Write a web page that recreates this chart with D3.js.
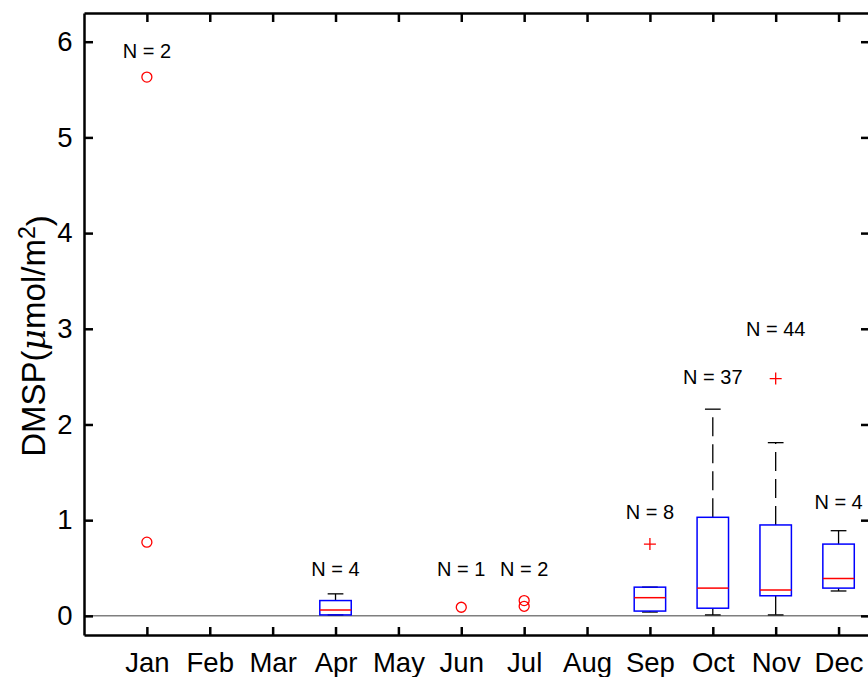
<!DOCTYPE html>
<html lang="en">
<head>
    <meta charset="UTF-8">
    <title>DMSP monthly boxplot</title>
    <script src="https://d3js.org/d3.v7.min.js"></script>
    <style>
        body { margin: 0; background: #fff; }
        text { font-family: "Liberation Sans", Arial, Helvetica, sans-serif; }
        .axis path, .axis line { stroke: #000; stroke-width: 2.5; fill: none; }
        .axis text { font-size: 27.5px; fill: #000; }
    </style>
</head>
<body>
<svg width="868" height="677"></svg>
<script>
    // month categories (x position = index + 1)
    const months = ["Jan", "Feb", "Mar", "Apr", "May", "Jun", "Jul", "Aug", "Sep", "Oct", "Nov", "Dec"];
    const yTicks = [0, 1, 2, 3, 4, 5, 6];

    // boxes
    const boxMonths = ["Apr", "Sep", "Oct", "Nov", "Dec"];
    const boxQ1     = [0.01, 0.05, 0.08, 0.21, 0.29];
    const boxMedian = [0.06, 0.19, 0.29, 0.27, 0.39];
    const boxQ3     = [0.16, 0.30, 1.03, 0.95, 0.75];
    const whiskLow  = [0.01, 0.04, 0.01, 0.01, 0.26];
    const whiskHigh = [0.23, 0.30, 2.16, 1.81, 0.89];

    // outliers (+)
    const plusMonths = ["Sep", "Nov"];
    const plusValues = [0.75, 2.48];

    // single points (o)
    const circleMonths = ["Jan", "Jan", "Jun", "Jul", "Jul"];
    const circleValues = [5.63, 0.77, 0.09, 0.16, 0.10];

    // sample sizes
    const nMonths = ["Jan", "Apr", "Jun", "Jul", "Sep", "Oct", "Nov", "Dec"];
    const nCounts = [2, 4, 1, 2, 8, 37, 44, 4];
    const nLabelY = [5.9, 0.49, 0.49, 0.49, 1.09, 2.5, 3.0, 1.19];

    const svg = d3.select("svg");
    const plotL = 84, plotR = 870, plotT = 13, plotB = 635;

    const x = d3.scaleLinear().domain([0, 12.5]).range([plotL, plotR]);
    const y = d3.scaleLinear().domain([-0.2, 6.3]).range([plotB, plotT]);
    const mx = m => x(months.indexOf(m) + 1);
    const halfBox = (x(0.25) - x(0));
    const halfCap = (x(0.125) - x(0));

    // zero line
    svg.append("line")
        .attr("x1", plotL).attr("x2", plotR)
        .attr("y1", y(0)).attr("y2", y(0))
        .attr("stroke", "#7f7f7f").attr("stroke-width", 1.5);

    // boxes
    const g = svg.append("g");
    boxMonths.forEach(function(m, i) {
        const cx = mx(m);
        // whiskers
        g.append("line")
            .attr("x1", cx).attr("x2", cx)
            .attr("y1", y(boxQ3[i])).attr("y2", y(whiskHigh[i]))
            .attr("stroke", "#000").attr("stroke-width", 1.3)
            .attr("stroke-dasharray", "19,8");
        g.append("line")
            .attr("x1", cx).attr("x2", cx)
            .attr("y1", y(boxQ1[i])).attr("y2", y(whiskLow[i]))
            .attr("stroke", "#000").attr("stroke-width", 1.3)
            .attr("stroke-dasharray", "19,8");
        // caps
        [whiskLow[i], whiskHigh[i]].forEach(function(v) {
            g.append("line")
                .attr("x1", cx - halfCap).attr("x2", cx + halfCap)
                .attr("y1", y(v)).attr("y2", y(v))
                .attr("stroke", "#000").attr("stroke-width", 1.3);
        });
        // box
        g.append("rect")
            .attr("x", cx - halfBox).attr("width", 2 * halfBox)
            .attr("y", y(boxQ3[i])).attr("height", y(boxQ1[i]) - y(boxQ3[i]))
            .attr("fill", "none").attr("stroke", "#0000ff").attr("stroke-width", 1.5);
        // median
        g.append("line")
            .attr("x1", cx - halfBox).attr("x2", cx + halfBox)
            .attr("y1", y(boxMedian[i])).attr("y2", y(boxMedian[i]))
            .attr("stroke", "#ff0000").attr("stroke-width", 1.5);
    });

    // + outliers
    plusMonths.forEach(function(m, i) {
        const cx = mx(m), cy = y(plusValues[i]);
        g.append("path")
            .attr("d", `M${cx - 6},${cy}H${cx + 6}M${cx},${cy - 6}V${cy + 6}`)
            .attr("stroke", "#ff0000").attr("stroke-width", 1.3).attr("fill", "none");
    });

    // o points
    g.selectAll(".pt")
        .data(circleMonths.map((m, i) => ({ m: m, v: circleValues[i] })))
        .enter().append("circle")
        .attr("cx", d => mx(d.m))
        .attr("cy", d => y(d.v))
        .attr("r", 5)
        .attr("fill", "none").attr("stroke", "#ff0000").attr("stroke-width", 1.3);

    // N labels
    g.selectAll(".nlab")
        .data(nMonths.map((m, i) => ({ m: m, n: nCounts[i], v: nLabelY[i] })))
        .enter().append("text")
        .attr("x", d => mx(d.m))
        .attr("y", d => y(d.v))
        .attr("dy", "0.36em")
        .attr("text-anchor", "middle")
        .style("font-size", "20px")
        .text(d => "N = " + d.n);

    // axes (ticks pointing inward)
    const monthTicks = months.map((m, i) => i + 1);
    svg.append("g").attr("class", "axis")
        .attr("transform", `translate(0,${plotB})`)
        .call(d3.axisBottom(x).tickValues(monthTicks).tickSizeInner(-8).tickSizeOuter(0)
            .tickPadding(17).tickFormat(d => months[d - 1]));
    svg.append("g").attr("class", "axis")
        .attr("transform", `translate(0,${plotT})`)
        .call(d3.axisTop(x).tickValues(monthTicks).tickSizeInner(-9).tickSizeOuter(0).tickFormat(""));
    svg.append("g").attr("class", "axis")
        .attr("transform", `translate(${plotL},0)`)
        .call(d3.axisLeft(y).tickValues(yTicks).tickSizeInner(-9).tickSizeOuter(0)
            .tickPadding(11.5).tickFormat(d3.format("d")));
    svg.append("g").attr("class", "axis")
        .attr("transform", `translate(${plotR},0)`)
        .call(d3.axisRight(y).tickValues(yTicks).tickSizeInner(-9).tickSizeOuter(0).tickFormat(""));

    // y label
    const yl = svg.append("text")
        .attr("transform", "translate(45,336) rotate(-90)")
        .attr("text-anchor", "middle")
        .style("font-size", "33px");
    yl.append("tspan").text("DMSP(");
    yl.append("tspan").style("font-family", "'DejaVu Serif', serif").style("font-style", "italic").text("μ");
    yl.append("tspan").text("mol/m");
    yl.append("tspan").attr("dy", "-0.45em").style("font-size", "23px").text("2");
    yl.append("tspan").attr("dy", "0.45em").text(")");
</script>
</body>
</html>
